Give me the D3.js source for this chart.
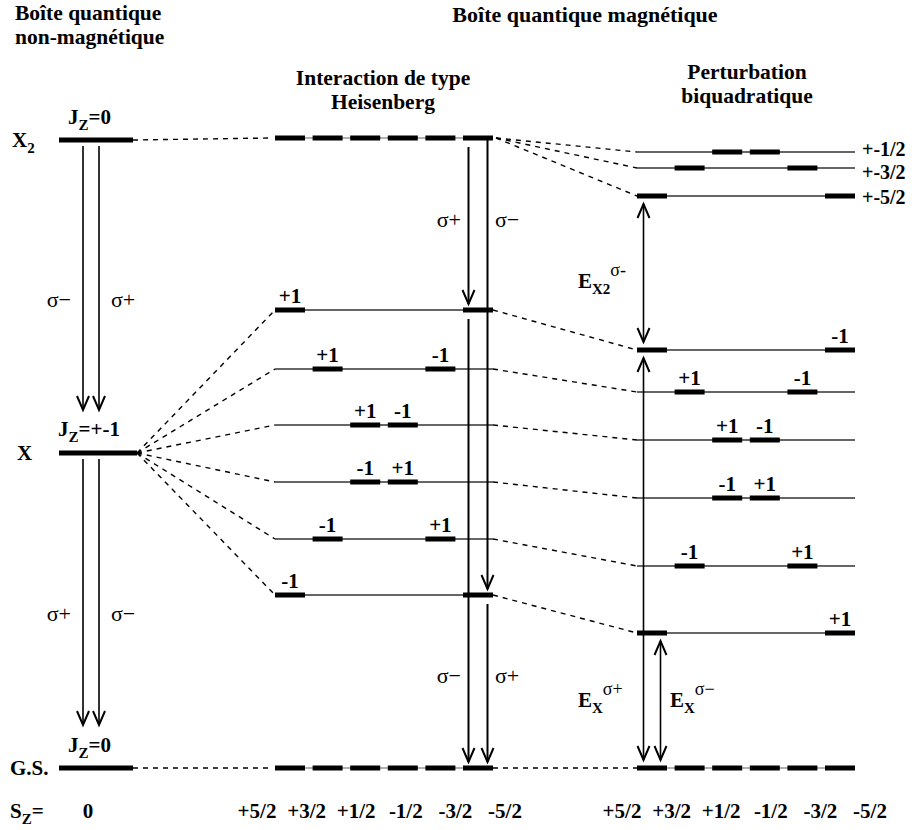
<!DOCTYPE html>
<html>
<head>
<meta charset="utf-8">
<script src="https://cdn.jsdelivr.net/npm/d3@7"></script>
<style>
body { margin: 0; background: #fff; }
text { font-family: "Liberation Serif", "Times New Roman", serif; fill: #000; }
.b { font-weight: bold; }
</style>
</head>
<body>
<div id="svg_container"></div>
<script>
/* -----------------------
data
------------------------- */

// Mn spin projections
var szLabels = ["+5/2", "+3/2", "+1/2", "-1/2", "-3/2", "-5/2"];

// non-magnetic dot (energies in arbitrary units, G.S. = 0)
var nmNames = ["X2", "X", "G.S."];
var nmEnergy = [628, 315, 0];
var nmJz = ["0", "+-1", "0"];

// Heisenberg interaction
var heisX2Energy = 630;
var heisXEnergy = [458, 399, 343, 286, 229, 173];
var heisXBars = [["+5/2", "-5/2"], ["+3/2", "-3/2"], ["+1/2", "-1/2"], ["+1/2", "-1/2"], ["+3/2", "-3/2"], ["+5/2", "-5/2"]];
var heisXJz = [["+1", ""], ["+1", "-1"], ["+1", "-1"], ["-1", "+1"], ["-1", "+1"], ["-1", ""]];

// biquadratic perturbation
var biqX2Names = ["+-1/2", "+-3/2", "+-5/2"];
var biqX2Energy = [616, 600, 572];
var biqX2Bars = [["+1/2", "-1/2"], ["+3/2", "-3/2"], ["+5/2", "-5/2"]];
var biqXEnergy = [418, 376, 328, 270, 202, 135];
var biqXBars = [["+5/2", "-5/2"], ["+3/2", "-3/2"], ["+1/2", "-1/2"], ["+1/2", "-1/2"], ["+3/2", "-3/2"], ["+5/2", "-5/2"]];
var biqXJz = [["", "-1"], ["+1", "-1"], ["+1", "-1"], ["-1", "+1"], ["-1", "+1"], ["", "+1"]];

var gsEnergy = 0;

// optical transitions
var nmArrows = [
	{from: 628, to: 315, side: -1, pol: "σ−"},
	{from: 628, to: 315, side: 1, pol: "σ+"},
	{from: 315, to: 0, side: -1, pol: "σ+"},
	{from: 315, to: 0, side: 1, pol: "σ−"}
];
var heisArrows = [
	{from: 630, to: 458, side: -1, pol: "σ+"},
	{from: 630, to: 173, side: 1, pol: "σ−"},
	{from: 458, to: 0, side: -1, pol: "σ−"},
	{from: 173, to: 0, side: 1, pol: "σ+"}
];
var biqArrows = [
	{from: 572, to: 418, side: -1},
	{from: 418, to: 0, side: -1},
	{from: 135, to: 0, side: 1}
];

/* -----------------------
set plot
------------------------- */

var width = 915;
var height = 830;
var half = 15;      // half width of a spin bar

var svg = d3.select("#svg_container")
	.append("svg")
	.attr("width", width)
	.attr("height", height);

var y = d3.scaleLinear().domain([0, 630]).range([768, 138]);
var xHeis = d3.scalePoint().domain(szLabels).range([290, 478]);
var xBiq = d3.scalePoint().domain(szLabels).range([652, 840]);
var xHeisTick = d3.scalePoint().domain(szLabels).range([257, 505]);
var xBiqTick = d3.scalePoint().domain(szLabels).range([622, 870]);
var nmLeft = 59, nmRight = 133, nmArrowX = 91;

var heisL = xHeis(szLabels[0]) - half, heisR = xHeis(szLabels[5]) + half;
var biqL = xBiq(szLabels[0]) - half, biqR = xBiq(szLabels[5]) + half;

function dashed(x1, y1, x2, y2) {
	svg.append("line")
		.attr("x1", x1).attr("y1", y1).attr("x2", x2).attr("y2", y2)
		.attr("stroke", "#000").attr("stroke-width", 1.4)
		.attr("stroke-dasharray", "5,5");
}

function thin(x1, x2, yy, col) {
	svg.append("line")
		.attr("x1", x1).attr("x2", x2).attr("y1", yy).attr("y2", yy)
		.attr("stroke", col || "#333").attr("stroke-width", 1.3);
}

function bar(cx, yy) {
	svg.append("rect")
		.attr("x", cx - half).attr("y", yy - 2.5)
		.attr("width", half * 2).attr("height", 5)
		.attr("fill", "#000");
}

function head(x, tip, dir) {
	svg.append("path")
		.attr("d", "M" + (x - 6) + "," + (tip - dir * 14) + "L" + x + "," + tip + "L" + (x + 6) + "," + (tip - dir * 14))
		.attr("fill", "none").attr("stroke", "#000").attr("stroke-width", 2);
}

function arrow(x, y1, y2, both, sw) {
	svg.append("line")
		.attr("x1", x).attr("x2", x).attr("y1", y1).attr("y2", y2)
		.attr("stroke", "#000").attr("stroke-width", sw || 1.6);
	head(x, y2, 1);
	if (both) head(x, y1, -1);
}

function label(x, yy, txt, size, anchor) {
	return svg.append("text")
		.attr("class", "b")
		.attr("x", x).attr("y", yy)
		.attr("text-anchor", anchor || "middle")
		.style("font-size", (size || 21) + "px")
		.text(txt);
}

// several lines in one text element
function lines(x, ys, txts, size, anchor) {
	var t = svg.append("text")
		.attr("class", "b")
		.attr("text-anchor", anchor || "middle")
		.style("font-size", size + "px");
	txts.forEach(function (s, i) {
		t.append("tspan").attr("x", x).attr("y", ys[i]).text(s);
	});
	return t;
}

function subLabel(x, yy, main, sub, rest, anchor) {
	var t = svg.append("text").attr("class", "b")
		.attr("x", x).attr("y", yy)
		.attr("text-anchor", anchor || "start")
		.style("font-size", "21px");
	t.append("tspan").text(main);
	t.append("tspan").attr("dy", 6).style("font-size", "15px").text(sub);
	if (rest) t.append("tspan").attr("dy", -6).text(rest);
	return t;
}

/* -----------------------
titles
------------------------- */

lines(15, [20, 44], ["Boîte quantique", "non-magnétique"], 21.5, "start");
label(585, 22, "Boîte quantique magnétique", 22);
lines(383, [85, 109], ["Interaction de type", "Heisenberg"], 21.5);
lines(747, [79, 103], ["Perturbation", "biquadratique"], 21.5);

/* -----------------------
connections (dashed)
------------------------- */

dashed(nmRight, y(nmEnergy[0]), heisL - 5, y(heisX2Energy));
heisXEnergy.forEach(function (e) { dashed(nmRight + 4, y(nmEnergy[1]), heisL, y(e)); });
dashed(nmRight, y(nmEnergy[2]), heisL - 2, y(gsEnergy));

biqX2Energy.forEach(function (e) { dashed(heisR + 3, y(heisX2Energy), biqL, y(e)); });
heisXEnergy.forEach(function (e, i) { dashed(heisR, y(e), biqL, y(biqXEnergy[i])); });
dashed(heisR, y(gsEnergy), biqL, y(gsEnergy));

/* -----------------------
non-magnetic dot
------------------------- */

nmEnergy.forEach(function (e, i) {
	svg.append("rect")
		.attr("x", nmLeft).attr("y", y(e) - 2.5)
		.attr("width", nmRight - nmLeft + (i == 1 ? 4 : 0)).attr("height", 5)
		.attr("fill", "#000");
});

subLabel(12, y(nmEnergy[0]) + 7, "X", "2");
label(17, y(nmEnergy[1]) + 7, "X", 21, "start");
label(10, y(nmEnergy[2]) + 7, "G.S.", 21, "start");

subLabel(68, y(nmEnergy[0]) - 16, "J", "Z", "=" + nmJz[0]);
subLabel(58, y(nmEnergy[1]) - 17, "J", "Z", "=" + nmJz[1]);
subLabel(68, y(nmEnergy[2]) - 16, "J", "Z", "=" + nmJz[2]);

nmArrows.forEach(function (a) {
	var x = nmArrowX + a.side * 8;
	arrow(x, y(a.from) + 6, y(a.to) - 43, false, 1.6);
	svg.append("text")
		.attr("x", x + a.side * 12)
		.attr("y", (y(a.from) + y(a.to)) / 2 + 10)
		.attr("text-anchor", a.side < 0 ? "end" : "start")
		.style("font-size", "22px")
		.text(a.pol);
});

/* -----------------------
Heisenberg column
------------------------- */

thin(heisL, heisR, y(heisX2Energy), "#999");
szLabels.forEach(function (s) { bar(xHeis(s), y(heisX2Energy)); });

heisXEnergy.forEach(function (e, i) {
	thin(heisL, heisR, y(e));
	heisXBars[i].forEach(function (s, j) {
		bar(xHeis(s), y(e));
		if (heisXJz[i][j]) label(xHeis(s), y(e) - 7, heisXJz[i][j]);
	});
});

thin(heisL, heisR, y(gsEnergy), "#999");
szLabels.forEach(function (s) { bar(xHeis(s), y(gsEnergy)); });

heisArrows.forEach(function (a, i) {
	var x = xHeis("-5/2") + a.side * 9.5;
	var start = (a.from == heisX2Energy && a.side > 0) ? y(a.from) : y(a.from) + 9;
	arrow(x, start, y(a.to) - 6, false, 2);
});
[[heisArrows[0], heisArrows[1]], [heisArrows[2], heisArrows[3]]].forEach(function (pair, k) {
	var yy = k == 0 ? 227 : 683;
	pair.forEach(function (a) {
		svg.append("text")
			.attr("x", xHeis("-5/2") + a.side * 17)
			.attr("y", yy)
			.attr("text-anchor", a.side < 0 ? "end" : "start")
			.style("font-size", "22px")
			.text(a.pol);
	});
});

/* -----------------------
biquadratic column
------------------------- */

biqX2Energy.forEach(function (e, i) {
	thin(biqL, biqR, y(e));
	biqX2Bars[i].forEach(function (s) { bar(xBiq(s), y(e)); });
});
// labels of the closely spaced X2 sublevels, nudged apart a little
var x2LabelShift = [-3, 4, 1];
lines(862, biqX2Energy.map(function (e, i) { return y(e) + 7 + x2LabelShift[i]; }), biqX2Names, 20, "start");

biqXEnergy.forEach(function (e, i) {
	thin(biqL, biqR, y(e));
	biqXBars[i].forEach(function (s, j) {
		bar(xBiq(s), y(e));
		if (biqXJz[i][j]) label(xBiq(s), y(e) - 7, biqXJz[i][j]);
	});
});

thin(biqL, biqR, y(gsEnergy), "#999");
szLabels.forEach(function (s) { bar(xBiq(s), y(gsEnergy)); });

biqArrows.forEach(function (a) {
	var x = xBiq("+5/2") + a.side * 8.5;
	arrow(x, y(a.from) + 8, y(a.to) - 8, true, 1.6);
});

function eLabel(x, yy, sub, sup) {
	var t = svg.append("text").attr("x", x).attr("y", yy);
	t.append("tspan").attr("class", "b").style("font-size", "21px").text("E");
	t.append("tspan").attr("class", "b").attr("dy", 6).style("font-size", "15px").text(sub);
	t.append("tspan").attr("dy", -18).style("font-size", "18px").text(sup);
}
eLabel(578, 288, "X2", "σ-");
eLabel(578, 707, "X", "σ+");
eLabel(670, 707, "X", "σ−");

/* -----------------------
Sz axis
------------------------- */

subLabel(10, 818, "S", "Z", "=");
label(88, 818, "0");
szLabels.forEach(function (s) {
	label(xHeisTick(s), 818, s);
	label(xBiqTick(s), 818, s);
});
</script>
</body>
</html>
